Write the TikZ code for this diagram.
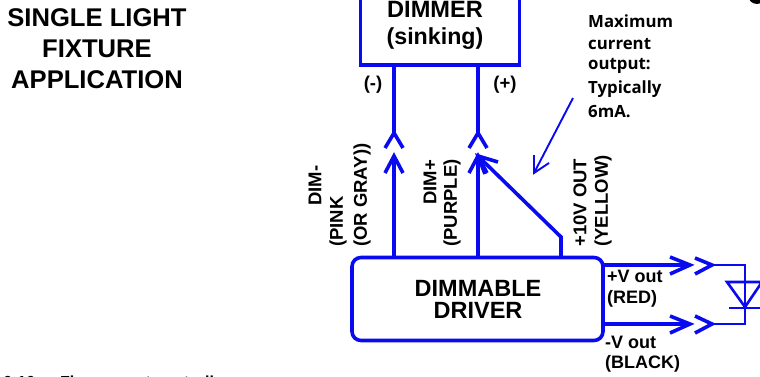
\documentclass[tikz,border=0pt]{standalone}
\usepackage{fontspec}
\setmainfont{Liberation Sans}
\newfontfamily\noteFont{Open Sans}
\definecolor{wire}{RGB}{10,10,240}
\tikzset{x=1pt,y=-1pt,
 wirel/.style={draw=wire,line width=3.6pt,line join=miter},
 thinw/.style={draw=wire,line width=2.6pt},
 notew/.style={draw=wire,line width=1.9pt,line join=miter},
 lab/.style={font=\bfseries\fontsize{#1}{#1}\selectfont,inner sep=0pt,align=center,text=black},
 lab/.default=17,
 notetext/.style={anchor=west,inner sep=0pt,font=\noteFont\bfseries\fontsize{16.8}{16.8}\selectfont},
 rlab/.style={lab=18.5,rotate=90,anchor=west}}
\begin{document}
\begin{tikzpicture}
\useasboundingbox (0,0) rectangle (760,377);
\fill[white] (0,0) rectangle (760,377);
\begin{scope}
\clip (0,0) rectangle (760,377);
\fill[black] (757,-5) circle (9);
\node[lab=16,anchor=west] (cap1) at (3,382) {6-10:};
\node[lab=16,anchor=west] (cap2) at (60,382) {Fluorescent controller};
\node[draw=wire,line width=3.6pt,outer sep=0pt,minimum width=159pt,minimum height=85pt,anchor=south west,inner sep=0pt] (dimbox) at (360.5,65) {};
\node[lab=23.6] (dimmer) at (435,9) {DIMMER};
\node[lab=23.2] (sink) at (435,39) {(sinking)};
\end{scope}
\node[lab=25.6] (t1) at (97,18) {SINGLE LIGHT};
\node[lab=25.6] (t2) at (97,49) {FIXTURE};
\node[lab=25.6] (t3) at (97,80) {APPLICATION};
% note
\node[notetext] (n1) at (588,21) {Maximum};
\node[notetext] (n2) at (588,44) {current};
\node[notetext] (n3) at (588,66) {output:};
\node[notetext] (n4) at (588,89) {Typically};
\node[notetext] (n5) at (588,112) {6mA.};
\node[lab=18.5] (minus) at (373,85) {(-)};
\node[lab=18.5] (plus) at (505,85) {(+)};
% driver
\node[draw=wire,line width=3.6pt,outer sep=0pt,rounded corners=9pt,minimum width=251pt,minimum height=83pt,anchor=north west,inner sep=0pt] (drv) at (352,257.5) {};
\node[lab=23.5] (d1) at (478,288) {DIMMABLE};
\node[lab=23.5] (d2) at (478,310) {DRIVER};
% junction coordinates
\coordinate (a1) at (394,65); \coordinate (a2) at (394,133);
\coordinate (b1) at (478,65); \coordinate (b2) at (478,133);
\coordinate (a3) at (394,257); \coordinate (a4) at (394,156);
\coordinate (b3) at (478,257); \coordinate (b4) at (478,156);
\coordinate (c3) at (561,257); \coordinate (c2) at (561,237);
\coordinate (na) at (573,98); \coordinate (nb) at (534,173);
\coordinate (p0) at (603,265); \coordinate (p1) at (690,265); \coordinate (p2) at (712,265);
\coordinate (q0) at (603,324); \coordinate (q1) at (690,324); \coordinate (q2) at (712,324);
\coordinate (pr) at (745,265); \coordinate (qr) at (745,324); \coordinate (dt) at (745,307);
% wires
\draw[wirel] (a1) -- (a2);
\draw[wirel] (b1) -- (b2);
\draw[wirel] (385,148) -- (a2) -- (403,148);
\draw[wirel] (469,148) -- (b2) -- (487,148);
\draw[wirel] (a3) -- (a4);
\draw[wirel] (385,173) -- (a4) -- (403,173);
\draw[wirel] (b3) -- (b4);
\draw[wirel] (469,173) -- (b4) -- (487,173);
\draw[wirel] (c3) -- (c2) -- (b4);
\draw[wirel] (498,162) -- (b4) -- (485,174);
% note arrow
\draw[notew] (na) -- (nb);
\draw[notew] (534,155) -- (nb) -- (549,163);
% outputs
\draw[wirel] (p0) -- (p1);
\draw[wirel] (670,257) -- (p1) -- (670,274);
\draw[wirel] (q0) -- (q1);
\draw[wirel] (670,316) -- (q1) -- (670,333);
\draw[wirel] (695,258) -- (p2) -- (695,274);
\draw[wirel] (695,316) -- (q2) -- (695,333);
\draw[thinw] (p2) -- (pr) -- (qr) -- (q2);
\draw[thinw] (727,282) -- (762,282) -- (dt) -- cycle;
\draw[thinw] (729,308) -- (762,308);
% labels
\node[lab=18,anchor=west] (l1) at (607,276) {+V out};
\node[lab=18,anchor=west] (l2) at (607,299) {(RED)};
\node[lab=18,anchor=west] (l3) at (605,342) {-V out};
\node[lab=18,anchor=west] (l4) at (605,364) {(BLACK)};
\node[rlab] (r1) at (315,206) {DIM-};
\node[rlab] (r2) at (338,247) {(PINK};
\node[rlab] (r3) at (362,247) {(OR GRAY))};
\node[rlab] (r4) at (430,205) {DIM+};
\node[rlab] (r5) at (452,247) {(PURPLE)};
\node[rlab] (r6) at (580,247) {+10V OUT};
\node[rlab] (r7) at (603,247) {(YELLOW)};
\end{tikzpicture}
\end{document}
